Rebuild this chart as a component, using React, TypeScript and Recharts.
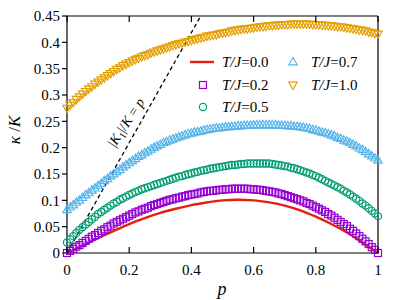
import React from "react";
import { ComposedChart, Line, XAxis, YAxis, ReferenceLine } from "recharts";

// p grid (step 0.01) for the marker series
const pFine = [
  0, 0.01, 0.02, 0.03, 0.04, 0.05, 0.06, 0.07, 0.08, 0.09,
  0.1, 0.11, 0.12, 0.13, 0.14, 0.15, 0.16, 0.17, 0.18, 0.19,
  0.2, 0.21, 0.22, 0.23, 0.24, 0.25, 0.26, 0.27, 0.28, 0.29,
  0.3, 0.31, 0.32, 0.33, 0.34, 0.35, 0.36, 0.37, 0.38, 0.39,
  0.4, 0.41, 0.42, 0.43, 0.44, 0.45, 0.46, 0.47, 0.48, 0.49,
  0.5, 0.51, 0.52, 0.53, 0.54, 0.55, 0.56, 0.57, 0.58, 0.59,
  0.6, 0.61, 0.62, 0.63, 0.64, 0.65, 0.66, 0.67, 0.68, 0.69,
  0.7, 0.71, 0.72, 0.73, 0.74, 0.75, 0.76, 0.77, 0.78, 0.79,
  0.8, 0.81, 0.82, 0.83, 0.84, 0.85, 0.86, 0.87, 0.88, 0.89,
  0.9, 0.91, 0.92, 0.93, 0.94, 0.95, 0.96, 0.97, 0.98, 0.99,
  1,
];

// T/J = 0.2 (squares)
const kappaT02 = [
  0.000, 0.004, 0.008, 0.012, 0.015, 0.019, 0.023, 0.027, 0.031, 0.034,
  0.038, 0.042, 0.045, 0.049, 0.052, 0.056, 0.059, 0.062, 0.065, 0.068,
  0.071, 0.074, 0.077, 0.079, 0.082, 0.084, 0.086, 0.089, 0.091, 0.093,
  0.095, 0.097, 0.099, 0.101, 0.102, 0.104, 0.105, 0.107, 0.108, 0.110,
  0.111, 0.112, 0.113, 0.115, 0.116, 0.117, 0.118, 0.118, 0.119, 0.120,
  0.120, 0.121, 0.121, 0.122, 0.122, 0.122, 0.122, 0.122, 0.122, 0.121,
  0.121, 0.120, 0.120, 0.119, 0.118, 0.117, 0.116, 0.115, 0.113, 0.112,
  0.110, 0.108, 0.106, 0.104, 0.102, 0.100, 0.098, 0.095, 0.093, 0.090,
  0.087, 0.084, 0.081, 0.078, 0.074, 0.071, 0.067, 0.063, 0.059, 0.055,
  0.051, 0.046, 0.042, 0.037, 0.032, 0.027, 0.022, 0.017, 0.011, 0.006,
  0.000,
];

// T/J = 0.5 (circles)
const kappaT05 = [
  0.020, 0.026, 0.032, 0.038, 0.044, 0.049, 0.054, 0.059, 0.064, 0.069,
  0.074, 0.078, 0.082, 0.086, 0.090, 0.094, 0.097, 0.101, 0.104, 0.107,
  0.110, 0.113, 0.116, 0.118, 0.121, 0.123, 0.125, 0.127, 0.129, 0.131,
  0.133, 0.135, 0.137, 0.139, 0.141, 0.143, 0.145, 0.146, 0.148, 0.150,
  0.151, 0.153, 0.154, 0.156, 0.157, 0.158, 0.160, 0.161, 0.162, 0.163,
  0.164, 0.165, 0.166, 0.167, 0.167, 0.168, 0.169, 0.169, 0.170, 0.170,
  0.170, 0.170, 0.170, 0.170, 0.170, 0.170, 0.169, 0.168, 0.167, 0.166,
  0.165, 0.164, 0.162, 0.161, 0.159, 0.157, 0.155, 0.153, 0.151, 0.148,
  0.146, 0.143, 0.140, 0.137, 0.134, 0.131, 0.128, 0.125, 0.122, 0.118,
  0.115, 0.111, 0.107, 0.103, 0.099, 0.094, 0.090, 0.085, 0.080, 0.075,
  0.070,
];

// T/J = 0.7 (up triangles)
const kappaT07 = [
  0.082, 0.087, 0.091, 0.096, 0.100, 0.105, 0.110, 0.114, 0.119, 0.123,
  0.128, 0.132, 0.137, 0.141, 0.146, 0.150, 0.154, 0.158, 0.163, 0.167,
  0.171, 0.175, 0.179, 0.183, 0.186, 0.190, 0.193, 0.197, 0.200, 0.203,
  0.206, 0.209, 0.211, 0.214, 0.216, 0.218, 0.220, 0.222, 0.224, 0.226,
  0.227, 0.229, 0.230, 0.231, 0.233, 0.234, 0.235, 0.236, 0.237, 0.237,
  0.238, 0.239, 0.239, 0.240, 0.240, 0.241, 0.241, 0.242, 0.242, 0.242,
  0.243, 0.243, 0.243, 0.243, 0.243, 0.243, 0.243, 0.243, 0.242, 0.242,
  0.242, 0.241, 0.241, 0.240, 0.240, 0.239, 0.238, 0.237, 0.236, 0.234,
  0.233, 0.231, 0.229, 0.228, 0.226, 0.224, 0.222, 0.219, 0.217, 0.214,
  0.212, 0.209, 0.206, 0.203, 0.199, 0.196, 0.192, 0.188, 0.184, 0.180,
  0.176,
];

// T/J = 1.0 (down triangles)
const kappaT10 = [
  0.275, 0.281, 0.286, 0.292, 0.297, 0.302, 0.307, 0.312, 0.316, 0.321,
  0.325, 0.329, 0.333, 0.337, 0.341, 0.345, 0.349, 0.352, 0.356, 0.359,
  0.362, 0.365, 0.368, 0.370, 0.373, 0.375, 0.377, 0.380, 0.382, 0.384,
  0.386, 0.388, 0.390, 0.392, 0.394, 0.396, 0.398, 0.399, 0.401, 0.402,
  0.404, 0.406, 0.407, 0.409, 0.410, 0.412, 0.413, 0.414, 0.415, 0.417,
  0.418, 0.419, 0.420, 0.422, 0.423, 0.424, 0.425, 0.426, 0.426, 0.427,
  0.428, 0.429, 0.430, 0.430, 0.431, 0.432, 0.432, 0.433, 0.433, 0.434,
  0.434, 0.434, 0.435, 0.435, 0.435, 0.435, 0.435, 0.435, 0.435, 0.434,
  0.434, 0.434, 0.433, 0.433, 0.432, 0.432, 0.431, 0.430, 0.430, 0.429,
  0.428, 0.427, 0.426, 0.425, 0.424, 0.423, 0.422, 0.420, 0.419, 0.417,
  0.416,
];

// T/J = 0.0 (solid red line), coarser grid
const pCoarse = [
  0, 0.05, 0.1, 0.15, 0.2, 0.25, 0.3, 0.35, 0.4, 0.45, 0.5,
  0.55, 0.6, 0.65, 0.7, 0.75, 0.8, 0.85, 0.9, 0.95, 1,
];
const kappaT00 = [
  0.000, 0.014, 0.028, 0.042, 0.055, 0.066, 0.076, 0.084, 0.091, 0.096, 0.100,
  0.101, 0.100, 0.096, 0.090, 0.081, 0.069, 0.055, 0.039, 0.020, 0.000,
];

// dashed guide |K1|/K = p
const guideStart = { x: 0, y: 0 };
const guideEnd = { x: 0.43, y: 0.45 };

const xTicks = [0, 0.2, 0.4, 0.6, 0.8, 1];
const yTicks = [0, 0.05, 0.1, 0.15, 0.2, 0.25, 0.3, 0.35, 0.4, 0.45];

const data = pFine.map((p, i) => ({
  p,
  t02: kappaT02[i],
  t05: kappaT05[i],
  t07: kappaT07[i],
  t10: kappaT10[i],
}));
const redData = pCoarse.map((p, i) => ({ p, t00: kappaT00[i] }));

const RED = "#e51e10";
const PURPLE = "#9400d3";
const GREEN = "#009e73";
const BLUE = "#56b4e9";
const ORANGE = "#e69f00";
const FONT = "serif";
const TICK_LEN = 6;

type Shape = "square" | "circle" | "up" | "down";

function Marker({ shape, cx, cy, color }: { shape: Shape; cx: number; cy: number; color: string }) {
  const common = { fill: "none", stroke: color, strokeWidth: 1.2 };
  if (shape === "square") return <rect x={cx - 3.5} y={cy - 3.5} width={7} height={7} {...common} />;
  if (shape === "circle") return <circle cx={cx} cy={cy} r={3.6} {...common} />;
  if (shape === "up")
    return <polygon points={`${cx},${cy - 4.5} ${cx - 4.2},${cy + 2.8} ${cx + 4.2},${cy + 2.8}`} {...common} />;
  return <polygon points={`${cx},${cy + 4.5} ${cx - 4.2},${cy - 2.8} ${cx + 4.2},${cy - 2.8}`} {...common} />;
}

const dotOf = (shape: Shape, color: string) => (props: any) => {
  const { cx, cy, index } = props;
  if (cx == null || cy == null) return <g key={index} />;
  return (
    <g key={index}>
      <Marker shape={shape} cx={cx} cy={cy} color={color} />
    </g>
  );
};

// inward ticks, drawn from the axis position recharts hands to the tick renderer
const BottomTick = (props: any) => {
  const { x, y, payload } = props;
  return (
    <g>
      <line x1={x} y1={y} x2={x} y2={y - TICK_LEN} stroke="#000" strokeWidth={1.2} />
      <text x={x} y={y + 22} textAnchor="middle" fontSize={15} fontFamily={FONT} fill="#000">
        {String(payload.value)}
      </text>
    </g>
  );
};
const TopTick = (props: any) => {
  const { x, y } = props;
  return <line x1={x} y1={y} x2={x} y2={y + TICK_LEN} stroke="#000" strokeWidth={1.2} />;
};
const RightTick = (props: any) => {
  const { x, y } = props;
  return <line x1={x} y1={y} x2={x - TICK_LEN} y2={y} stroke="#000" strokeWidth={1.2} />;
};

export default function App() {
  return (
    <div
      style={{
        position: "absolute",
        left: 0,
        top: 0,
        width: 400,
        height: 300,
        background: "#fff",
        fontFamily: FONT,
      }}
    >
      <ComposedChart
        width={400}
        height={300}
        data={data}
        margin={{ top: 15, right: 21, bottom: 0, left: 0 }}
      >
        <XAxis
          dataKey="p"
          type="number"
          domain={[0, 1]}
          ticks={xTicks}
          height={47}
          tickLine={false}
          tickSize={0}
          tickMargin={0}
          stroke="#000"
          strokeWidth={1.2}
          tick={<BottomTick />}
        />
        <XAxis
          xAxisId="top"
          orientation="top"
          dataKey="p"
          type="number"
          domain={[0, 1]}
          ticks={xTicks}
          height={1}
          tickLine={false}
          tickSize={0}
          tickMargin={0}
          stroke="#000"
          strokeWidth={1.2}
          tick={<TopTick />}
        />
        <YAxis
          type="number"
          domain={[0, 0.45]}
          ticks={yTicks}
          width={67}
          tickSize={5}
          tickMargin={2}
          stroke="#000"
          strokeWidth={1.2}
          tick={{ fill: "#000", fontSize: 15, fontFamily: FONT }}
        />
        <YAxis
          yAxisId="right"
          orientation="right"
          type="number"
          domain={[0, 0.45]}
          ticks={yTicks}
          width={1}
          tickLine={false}
          tickSize={0}
          tickMargin={0}
          stroke="#000"
          strokeWidth={1.2}
          tick={<RightTick />}
        />
        <ReferenceLine
          segment={[guideStart, guideEnd]}
          stroke="#000"
          strokeWidth={1.3}
          strokeDasharray="4 3"
        />
        <Line
          data={redData}
          dataKey="t00"
          type="monotone"
          stroke={RED}
          strokeWidth={2.4}
          dot={false}
          activeDot={false}
          isAnimationActive={false}
        />
        <Line dataKey="t02" stroke="none" dot={dotOf("square", PURPLE)} activeDot={false} isAnimationActive={false} />
        <Line dataKey="t05" stroke="none" dot={dotOf("circle", GREEN)} activeDot={false} isAnimationActive={false} />
        <Line dataKey="t07" stroke="none" dot={dotOf("up", BLUE)} activeDot={false} isAnimationActive={false} />
        <Line dataKey="t10" stroke="none" dot={dotOf("down", ORANGE)} activeDot={false} isAnimationActive={false} />
      </ComposedChart>

      {/* titles, legend and guide label */}
      <svg
        width={400}
        height={300}
        style={{ position: "absolute", left: 0, top: 0, pointerEvents: "none", fontFamily: FONT }}
      >
        <text x={20} y={130} fontSize={17} textAnchor="middle" transform="rotate(-90 20 130)">
          <tspan fontStyle="italic">κ</tspan>
          <tspan> /</tspan>
          <tspan fontStyle="italic">K</tspan>
        </text>
        <text x={222} y={295} fontSize={18} fontStyle="italic" textAnchor="middle">
          p
        </text>
        <text x={130} y={125} fontSize={14} textAnchor="middle" transform="rotate(-57 130 125)">
          <tspan>|</tspan>
          <tspan fontStyle="italic">K</tspan>
          <tspan fontSize={10} dy={3}>1</tspan>
          <tspan dy={-3}>|/</tspan>
          <tspan fontStyle="italic">K</tspan>
          <tspan> = </tspan>
          <tspan fontStyle="italic">p</tspan>
        </text>

        {/* legend column 1 */}
        <line x1={190} y1={62} x2={214} y2={62} stroke={RED} strokeWidth={2.4} />
        <Marker shape="square" cx={203} cy={85} color={PURPLE} />
        <Marker shape="circle" cx={203} cy={107} color={GREEN} />
        <text x={222} y={67} fontSize={15}>
          <tspan fontStyle="italic">T/J</tspan>=0.0
        </text>
        <text x={222} y={90} fontSize={15}>
          <tspan fontStyle="italic">T/J</tspan>=0.2
        </text>
        <text x={222} y={112} fontSize={15}>
          <tspan fontStyle="italic">T/J</tspan>=0.5
        </text>

        {/* legend column 2 */}
        <Marker shape="up" cx={293} cy={62} color={BLUE} />
        <Marker shape="down" cx={293} cy={85} color={ORANGE} />
        <text x={311} y={67} fontSize={15}>
          <tspan fontStyle="italic">T/J</tspan>=0.7
        </text>
        <text x={311} y={90} fontSize={15}>
          <tspan fontStyle="italic">T/J</tspan>=1.0
        </text>
      </svg>
    </div>
  );
}
